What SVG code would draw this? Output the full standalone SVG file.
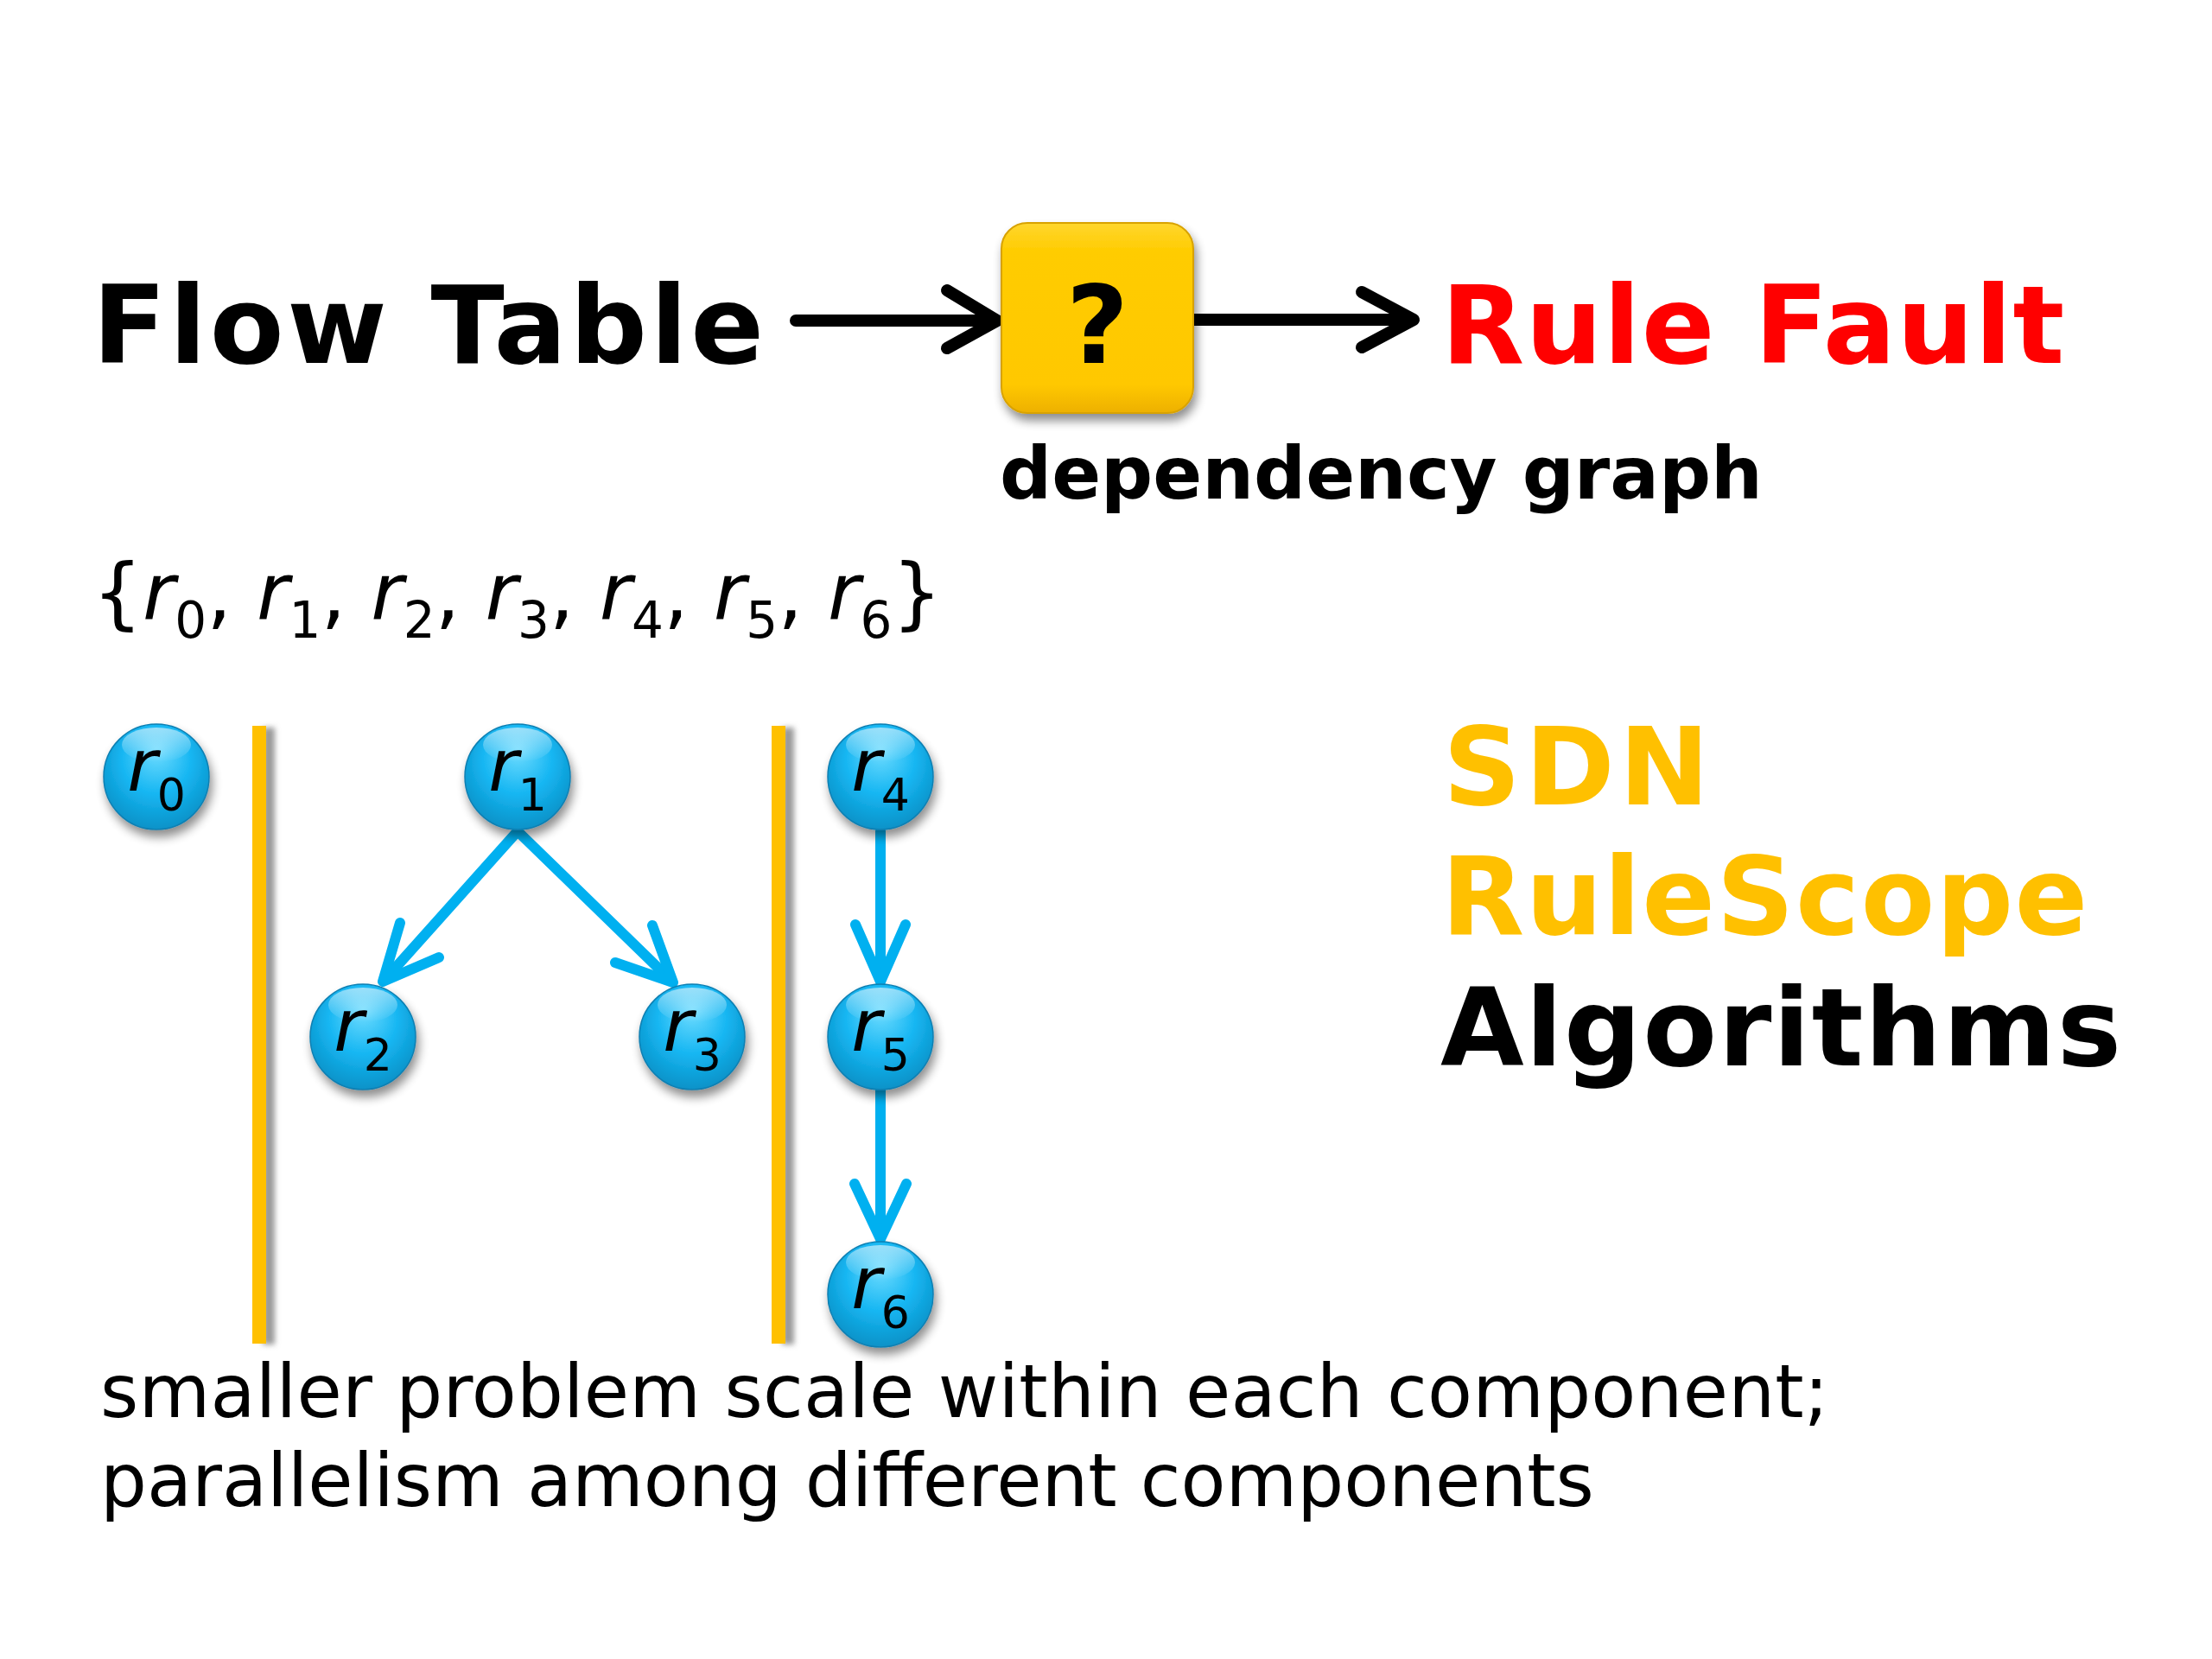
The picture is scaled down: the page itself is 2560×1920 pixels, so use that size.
<svg xmlns="http://www.w3.org/2000/svg" width="2560" height="1920" viewBox="0 0 2560 1920">
  <defs>
    <radialGradient id="ball" cx="50%" cy="40%" r="60%" fx="50%" fy="25%">
      <stop offset="0" stop-color="#6FDCFF"/>
      <stop offset="0.55" stop-color="#16B6F2"/>
      <stop offset="1" stop-color="#0A92C8"/>
    </radialGradient>
    <linearGradient id="shine" x1="0" y1="0" x2="0" y2="1">
      <stop offset="0" stop-color="#FFFFFF" stop-opacity="0.55"/>
      <stop offset="1" stop-color="#FFFFFF" stop-opacity="0"/>
    </linearGradient>
    <linearGradient id="box" x1="0" y1="0" x2="0" y2="1">
      <stop offset="0" stop-color="#FFD62E"/>
      <stop offset="0.15" stop-color="#FFCC00"/>
      <stop offset="0.85" stop-color="#FFC800"/>
      <stop offset="1" stop-color="#EDB000"/>
    </linearGradient>
    <filter id="shadow" x="-30%" y="-30%" width="160%" height="170%">
      <feGaussianBlur in="SourceAlpha" stdDeviation="6"/>
      <feOffset dx="3" dy="8" result="b"/>
      <feComponentTransfer><feFuncA type="linear" slope="0.45"/></feComponentTransfer>
      <feMerge><feMergeNode/><feMergeNode in="SourceGraphic"/></feMerge>
    </filter>
    <filter id="barshadow" x="-100%" y="-5%" width="300%" height="110%">
      <feGaussianBlur stdDeviation="3"/>
    </filter>
    <style>
      .bold { font-family: "DejaVu Sans", Verdana, sans-serif; font-weight: bold; }
      .reg { font-family: "DejaVu Sans", Verdana, sans-serif; }
      .it { font-style: italic; }
      .lbl { font-family: "DejaVu Sans", Verdana, sans-serif; font-size: 84px; fill: #000; }
      .sub { font-size: 52px; font-style: normal; }
      .node { fill: url(#ball); stroke: #0C7FB2; stroke-width: 1.5; }
      .edge { fill: none; stroke: #00B0F0; stroke-width: 12; stroke-linecap: round; stroke-linejoin: round; }
      .blk { fill: none; stroke: #000; stroke-width: 14; stroke-linecap: round; stroke-linejoin: round; }
      .bar { fill: #FFC000; }
      .barsh { fill: #9A9A9A; }
    </style>
  </defs>

  <rect width="2560" height="1920" fill="#FFFFFF"/>

  <!-- Title row -->
  <text class="bold" x="107" y="420" font-size="125" letter-spacing="3.7" fill="#000">Flow Table</text>
  <text class="bold" x="1668" y="420" font-size="125" letter-spacing="1.2" fill="#FF0000">Rule Fault</text>
  <text class="bold" x="1157" y="577" font-size="84" fill="#000">dependency graph</text>

  <g id="connectors">
    <g id="arrow-flow">
      <path class="blk" d="M921 371 H1152"/>
      <path class="blk" d="M1096 336 L1154 371 L1096 403"/>
    </g>
    <g id="arrow-fault">
      <path class="blk" d="M1382 370 H1634"/>
      <path class="blk" d="M1576 338 L1636 370 L1576 402"/>
    </g>
    <g id="e-r1-r2">
      <path class="edge" d="M599 962 L446 1133"/>
      <path class="edge" d="M463 1068 L443 1136 L508 1108"/>
    </g>
    <g id="e-r1-r3">
      <path class="edge" d="M599 962 L776 1134"/>
      <path class="edge" d="M755 1071 L779 1137 L712 1114"/>
    </g>
    <g id="e-r4-r5">
      <path class="edge" d="M1019 962 V1132"/>
      <path class="edge" d="M990 1070 L1019 1136 L1048 1070"/>
    </g>
    <g id="e-r5-r6">
      <path class="edge" d="M1019 1262 V1430"/>
      <path class="edge" d="M989 1370 L1019 1434 L1049 1370"/>
    </g>
  </g>

  <g id="node-check">
    <rect x="1159" y="258" width="222" height="220" rx="30" ry="30" fill="url(#box)" stroke="#D8A200" stroke-width="2" filter="url(#shadow)"/>
    <text class="bold" x="1270" y="420" font-size="125" text-anchor="middle" fill="#000">?</text>
  </g>

  <!-- rule set -->
  <text class="reg" x="107" y="717" font-size="91" fill="#000">{<tspan class="it">r</tspan><tspan font-size="58" dy="21">0</tspan><tspan dy="-21">, </tspan><tspan class="it">r</tspan><tspan font-size="58" dy="21">1</tspan><tspan dy="-21">, </tspan><tspan class="it">r</tspan><tspan font-size="58" dy="21">2</tspan><tspan dy="-21">, </tspan><tspan class="it">r</tspan><tspan font-size="58" dy="21">3</tspan><tspan dy="-21">, </tspan><tspan class="it">r</tspan><tspan font-size="58" dy="21">4</tspan><tspan dy="-21">, </tspan><tspan class="it">r</tspan><tspan font-size="58" dy="21">5</tspan><tspan dy="-21">, </tspan><tspan class="it">r</tspan><tspan font-size="58" dy="21">6</tspan><tspan dy="-21">}</tspan></text>

  <!-- separators -->
  <g id="separators">
    <rect class="barsh" x="304" y="842" width="14" height="714" filter="url(#barshadow)"/>
    <rect class="bar" x="292" y="840" width="16" height="715"/>
    <rect class="barsh" x="905" y="842" width="14" height="714" filter="url(#barshadow)"/>
    <rect class="bar" x="893" y="840" width="16" height="715"/>
  </g>

  <!-- nodes -->
  <g id="node-r0" filter="url(#shadow)">
    <circle class="node" cx="181" cy="899" r="61"/>
    <ellipse cx="181" cy="862" rx="40" ry="20" fill="url(#shine)"/>
    <text class="lbl" x="181" y="915" text-anchor="middle"><tspan class="it">r</tspan><tspan class="sub" dy="23">0</tspan></text>
  </g>
  <g id="node-r1" filter="url(#shadow)">
    <circle class="node" cx="599" cy="899" r="61"/>
    <ellipse cx="599" cy="862" rx="40" ry="20" fill="url(#shine)"/>
    <text class="lbl" x="599" y="915" text-anchor="middle"><tspan class="it">r</tspan><tspan class="sub" dy="23">1</tspan></text>
  </g>
  <g id="node-r4" filter="url(#shadow)">
    <circle class="node" cx="1019" cy="899" r="61"/>
    <ellipse cx="1019" cy="862" rx="40" ry="20" fill="url(#shine)"/>
    <text class="lbl" x="1019" y="915" text-anchor="middle"><tspan class="it">r</tspan><tspan class="sub" dy="23">4</tspan></text>
  </g>
  <g id="node-r2" filter="url(#shadow)">
    <circle class="node" cx="420" cy="1200" r="61"/>
    <ellipse cx="420" cy="1163" rx="40" ry="20" fill="url(#shine)"/>
    <text class="lbl" x="420" y="1216" text-anchor="middle"><tspan class="it">r</tspan><tspan class="sub" dy="23">2</tspan></text>
  </g>
  <g id="node-r3" filter="url(#shadow)">
    <circle class="node" cx="801" cy="1200" r="61"/>
    <ellipse cx="801" cy="1163" rx="40" ry="20" fill="url(#shine)"/>
    <text class="lbl" x="801" y="1216" text-anchor="middle"><tspan class="it">r</tspan><tspan class="sub" dy="23">3</tspan></text>
  </g>
  <g id="node-r5" filter="url(#shadow)">
    <circle class="node" cx="1019" cy="1200" r="61"/>
    <ellipse cx="1019" cy="1163" rx="40" ry="20" fill="url(#shine)"/>
    <text class="lbl" x="1019" y="1216" text-anchor="middle"><tspan class="it">r</tspan><tspan class="sub" dy="23">5</tspan></text>
  </g>
  <g id="node-r6" filter="url(#shadow)">
    <circle class="node" cx="1019" cy="1498" r="61"/>
    <ellipse cx="1019" cy="1461" rx="40" ry="20" fill="url(#shine)"/>
    <text class="lbl" x="1019" y="1514" text-anchor="middle"><tspan class="it">r</tspan><tspan class="sub" dy="23">6</tspan></text>
  </g>

  <!-- right side title -->
  <text class="bold" x="1670" y="931" font-size="125" letter-spacing="5" fill="#FFC000">SDN</text>
  <text class="bold" x="1668" y="1081" font-size="125" letter-spacing="1.4" fill="#FFC000">RuleScope</text>
  <text class="bold" x="1667" y="1233" font-size="125" letter-spacing="1.7" fill="#000">Algorithms</text>

  <!-- bottom caption -->
  <text class="reg" x="116" y="1640" font-size="85" letter-spacing="0.2" fill="#000">smaller problem scale within each component;</text>
  <text class="reg" x="116" y="1743" font-size="85" fill="#000">parallelism among different components</text>
</svg>
